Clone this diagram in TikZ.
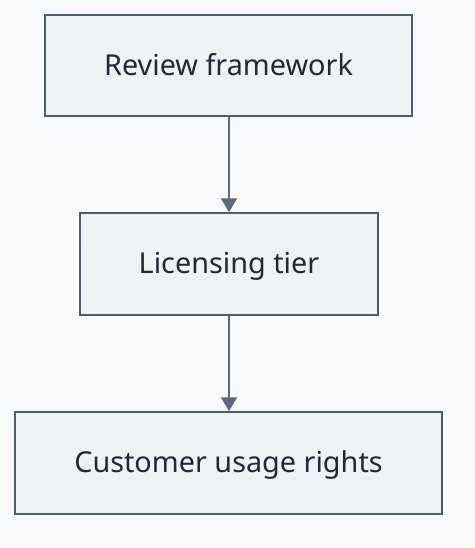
\documentclass[tikz,border=0pt]{standalone}
\usepackage{fontspec}
\setmainfont{Noto Sans}
\usetikzlibrary{arrows.meta}
\definecolor{bg}{HTML}{F7F9FB}
\definecolor{boxfill}{HTML}{EEF2F5}
\definecolor{boxline}{HTML}{4E5D6B}
\definecolor{arrowc}{HTML}{5B6B7B}
\definecolor{txt}{HTML}{1F2A36}
\begin{document}
\begin{tikzpicture}[x=1pt,y=-1pt,
  stepbox/.style={draw=boxline, line width=1.5pt, fill=boxfill, text=txt,
    font=\fontsize{28.8}{32}\selectfont, inner sep=0pt, text height=19.5pt, text depth=0pt},
  conn/.style={draw=arrowc, line width=1.5pt, -{Triangle[width=16pt,length=14pt]}}]
\fill[bg] (0,0) rectangle (474,548);
\useasboundingbox (0,0) rectangle (474,548);
\node[stepbox, minimum width=367pt, minimum height=101pt] (a) at (228.5,65.5) {Review framework};
\node[stepbox, minimum width=298pt, minimum height=102pt] (b) at (229,264) {Licensing tier};
\node[stepbox, minimum width=427pt, minimum height=102pt] (c) at (228.5,463) {Customer usage rights};
\draw[conn] (a.south -| b.north) -- (b.north);
\draw[conn] (b.south) -- (c.north -| b.south);
\end{tikzpicture}
\end{document}
